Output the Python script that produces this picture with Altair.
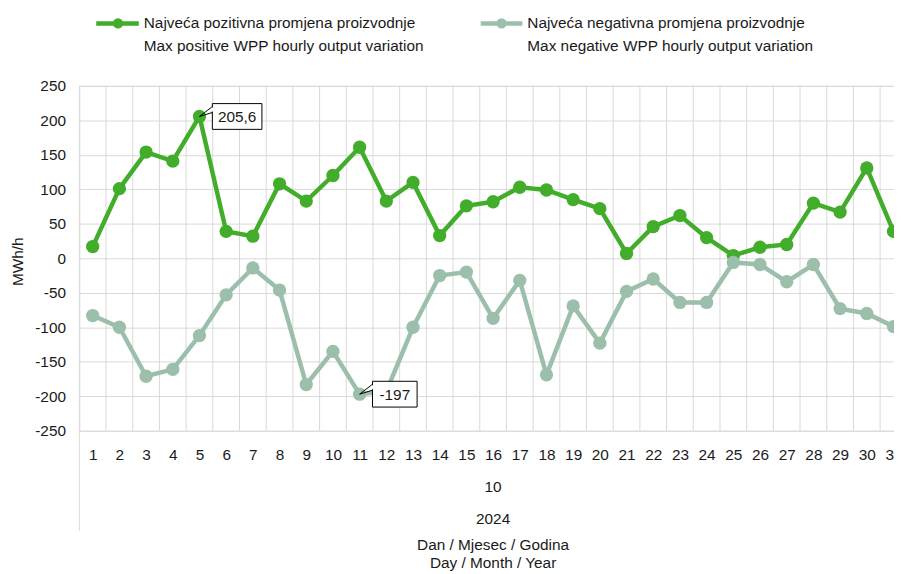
import altair as alt
import pandas as pd

days = list(range(1, 32))
positive = [17, 101, 154, 141, 205.6, 39, 32, 108, 83, 120, 161, 83, 110, 33, 76, 82,
            103, 99, 85, 72, 7, 46, 62, 30, 4, 16, 20, 80, 67, 131, 39]
negative = [-83, -100, -171, -161, -112, -53, -14, -46, -183, -135, -197, -193, -100, -25,
            -20, -87, -32, -169, -69, -123, -48, -30, -64, -64, -6, -9, -34, -9, -73, -80, -99]
series_pos = ["Najveća pozitivna promjena proizvodnje", "Max positive WPP hourly output variation"]
series_neg = ["Najveća negativna promjena proizvodnje", "Max negative WPP hourly output variation"]
month_label = "10"
year_label = "2024"
x_title = ["Dan / Mjesec / Godina", "Day / Month / Year"]
y_title = "MWh/h"
callouts = [(5, 205.6, "205,6"), (11, -197, "-197")]

GREEN = "#41ad2b"
GRAYGREEN = "#9bbfab"
GRID = "#d9d9d9"
FONT = "Liberation Sans Narrow, Liberation Sans, sans-serif"
TXT = "#1a1a1a"
FS = 15.5

df = pd.DataFrame({"day": days, "pos": positive, "neg": negative})
one_row = pd.DataFrame({"k": [0]})
bounds = pd.DataFrame({"b": [d - 0.5 for d in days] + [days[-1] + 0.5]})
mid_day = (days[0] + days[-1]) / 2

xscale = alt.Scale(domain=[0.5, 31.02], nice=False, zero=False)
yscale = alt.Scale(domain=[-250, 250], nice=False)

xaxis = alt.Axis(values=days, grid=False, ticks=False, domain=False, labelPadding=17,
                 labelFontSize=FS, labelFont=FONT, labelColor=TXT, labelFlush=False,
                 labelOverlap=False, labelBound=False, title=None)
yaxis = alt.Axis(values=list(range(-250, 251, 50)), grid=True, gridColor=GRID, ticks=False,
                 domain=False, labelPadding=14, labelFontSize=FS, labelFont=FONT,
                 labelColor=TXT, labelOverlap=False, labelExpr="toString(datum.value)",
                 title=y_title, titleFont=FONT, titleFontSize=FS,
                 titleFontWeight="normal", titleColor=TXT, titleX=-62, titleY=177,
                 titleAngle=-90, titleAlign="center", titleBaseline="middle")


def X(field):
    return alt.X(field, scale=xscale, axis=xaxis)


def Y(field):
    return alt.Y(field, scale=yscale, axis=yaxis)


vgrid = alt.Chart(bounds).mark_rule(color=GRID, strokeWidth=1).encode(x=X("b:Q"))

ext = alt.Chart(one_row).mark_rule(color=GRID, strokeWidth=1).encode(
    x=alt.value(0), y=alt.value(348), y2=alt.value(449))

pos_line = alt.Chart(df).mark_line(color=GREEN, strokeWidth=4.5).encode(x=X("day:Q"), y=Y("pos:Q"))
pos_pts = alt.Chart(df).mark_circle(color=GREEN, size=180, opacity=1).encode(x=X("day:Q"), y=Y("pos:Q"))
neg_line = alt.Chart(df).mark_line(color=GRAYGREEN, strokeWidth=4.5).encode(x=X("day:Q"), y=Y("neg:Q"))
neg_pts = alt.Chart(df).mark_circle(color=GRAYGREEN, size=180, opacity=1).encode(x=X("day:Q"), y=Y("neg:Q"))

cdf = pd.DataFrame({"day": [c[0] for c in callouts], "val": [c[1] for c in callouts],
                    "lab": [c[2] for c in callouts]})
cbase = alt.Chart(cdf).encode(x=X("day:Q"), y=Y("val:Q"))
c_layers = []
for i, (d, v, lab) in enumerate(callouts):
    w = 50 if len(lab) > 4 else 45
    one = cbase.transform_filter(alt.datum.lab == lab)
    box = one.mark_rect(fill="white", stroke="black", strokeWidth=1,
                        xOffset=13, x2Offset=13 + w, yOffset=-13, y2Offset=13).encode(
        x2="day:Q", y2="val:Q")
    p1 = one.mark_rule(color="black", strokeWidth=1, x2Offset=13, y2Offset=-10).encode(
        x2="day:Q", y2="val:Q")
    p2 = one.mark_rule(color="black", strokeWidth=1, x2Offset=13, y2Offset=-4).encode(
        x2="day:Q", y2="val:Q")
    cover = one.mark_rule(color="white", strokeWidth=2, xOffset=13, x2Offset=13,
                          yOffset=-9, y2Offset=-5).encode(x2="day:Q", y2="val:Q")
    txt = one.mark_text(font=FONT, fontSize=FS, color=TXT, dx=13 + w / 2, dy=1,
                        align="center", baseline="middle").encode(text="lab:N")
    c_layers += [box, p1, p2, cover, txt]


def label(text, y, x=None, align="center"):
    enc = dict(y=alt.value(y), text=alt.value(text))
    enc["x"] = alt.X(datum=mid_day, scale=xscale, axis=xaxis) if x is None else alt.value(x)
    return alt.Chart(one_row).mark_text(font=FONT, fontSize=FS, color=TXT, align=align,
                                        baseline="middle").encode(**enc)


month_txt = label(month_label, 405)
year_txt = label(year_label, 437)
t1 = label(x_title[0], 463)
t2 = label(x_title[1], 482)

leg = []
for (x0, x1, xc, xt, col, labels) in [(17, 60, 39, 65, GREEN, series_pos),
                                      (405, 447, 426, 452, GRAYGREEN, series_neg)]:
    leg.append(alt.Chart(one_row).mark_rule(color=col, strokeWidth=4.5).encode(
        x=alt.value(x0), x2=alt.value(x1), y=alt.value(-63)))
    leg.append(alt.Chart(one_row).mark_circle(color=col, size=110, opacity=1).encode(
        x=alt.value(xc), y=alt.value(-63)))
    leg.append(label(labels[0], -63, x=xt, align="left"))
    leg.append(label(labels[1], -40, x=xt, align="left"))

chart = alt.layer(vgrid, ext, pos_line, pos_pts, neg_line, neg_pts, *c_layers,
                  month_txt, year_txt, t1, t2, *leg).properties(
    width=822, height=348,
    autosize=alt.AutoSizeParams(type="none"),
    padding={"left": 72, "top": 76, "right": 0, "bottom": 142},
).configure_view(stroke=None).configure(background="white").configure_axis(labelOverlap=False)

chart.save("out.html", embed_options={"renderer": "svg", "actions": False})
